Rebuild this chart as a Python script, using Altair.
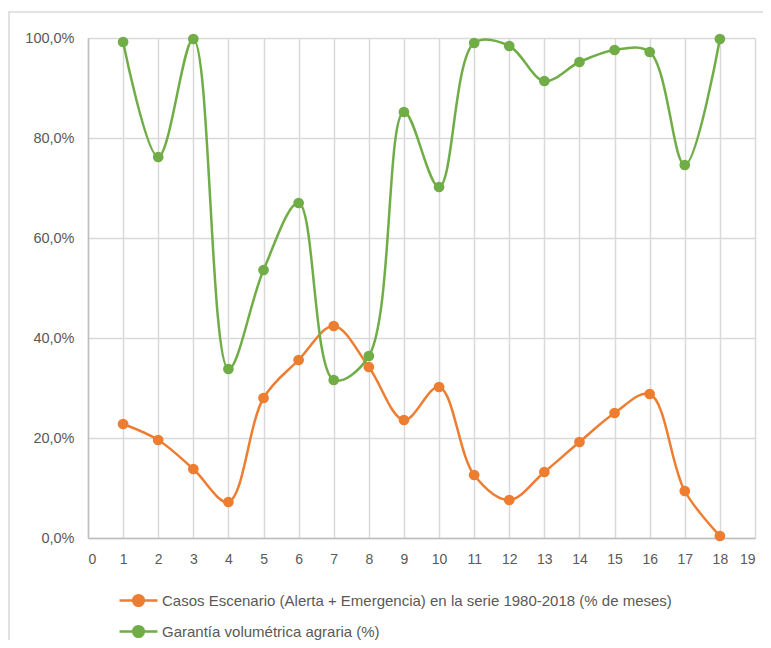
import altair as alt
import pandas as pd

x_vals = list(range(1, 19))
casos = [22.8, 19.6, 13.8, 7.2, 28.0, 35.6, 42.4, 34.2, 23.6, 30.2,
         12.6, 7.6, 13.2, 19.2, 25.0, 28.8, 9.4, 0.4]
garantia = [99.2, 76.2, 99.8, 33.8, 53.6, 67.0, 31.6, 36.4, 85.2, 70.2,
            99.0, 98.4, 91.4, 95.2, 97.6, 97.2, 74.6, 99.8]

s1 = "Casos Escenario (Alerta + Emergencia) en la serie 1980-2018 (% de meses)"
s2 = "Garantía volumétrica agraria (%)"
series_names = [s1, s2]
series_colors = ["#ED7D31", "#70AD47"]

df = pd.DataFrame({
    "x": x_vals * 2,
    "y": casos + garantia,
    "serie": [s1] * len(x_vals) + [s2] * len(x_vals),
})

FONT = "Liberation Sans"

color = alt.Color(
    "serie:N",
    scale=alt.Scale(domain=series_names, range=series_colors),
    legend=alt.Legend(
        title=None,
        orient="none",
        legendX=30,
        legendY=542,
        direction="vertical",
        labelFont=FONT,
        labelFontSize=15,
        labelColor="#595959",
        labelLimit=700,
        rowPadding=-7,
        symbolType="M-1,0H1M-0.28,0A0.28,0.28 0 1,1 0.28,0A0.28,0.28 0 1,1 -0.28,0Z",
        symbolSize=1444,
        symbolStrokeWidth=2.5,
        labelOffset=3,
    ),
)

xenc = alt.X(
    "x:Q",
    scale=alt.Scale(domain=[0, 19], nice=False, zero=False),
    axis=alt.Axis(
        values=list(range(0, 20)),
        title=None,
        ticks=False,
        labelPadding=14,
        labelFont=FONT,
        labelFontSize=14,
        labelColor="#595959",
        gridColor="#D9D9D9",
        gridWidth=1.5,
        domainColor="#BFBFBF",
        domainWidth=1.5,
    ),
)
yenc = alt.Y(
    "y:Q",
    scale=alt.Scale(domain=[0, 100], nice=False),
    axis=alt.Axis(
        values=[0, 20, 40, 60, 80, 100],
        title=None,
        ticks=False,
        labelPadding=14,
        labelFont=FONT,
        labelFontSize=14.5,
        labelColor="#595959",
        labelExpr="replace(format(datum.value, '.1f'), '.', ',') + '%'",
        gridColor="#D9D9D9",
        gridWidth=1.5,
        domainColor="#BFBFBF",
        domainWidth=1.5,
    ),
)

frame = alt.Chart(pd.DataFrame({"a": [0]})).mark_rect(
    fill=None, stroke="#D9D9D9", strokeWidth=1.5
).encode(
    x=alt.value(-79), x2=alt.value(720),
    y=alt.value(-26), y2=alt.value(640),
)

lines = alt.Chart(df).mark_line(
    interpolate="catmull-rom", strokeWidth=2.5
).encode(x=xenc, y=yenc, color=color, detail="serie:N")

points = alt.Chart(df).mark_point(
    filled=True, size=115, opacity=1
).encode(x=xenc, y=yenc, color=color)

chart = alt.layer(frame, lines, points).properties(
    width=667,
    height=500,
    padding={"left": 80, "top": 30, "right": 8, "bottom": 102},
    autosize=alt.AutoSizeParams(type="none"),
).configure_view(stroke=None)

chart.save("out.html", embed_options={"renderer": "svg", "actions": False})
